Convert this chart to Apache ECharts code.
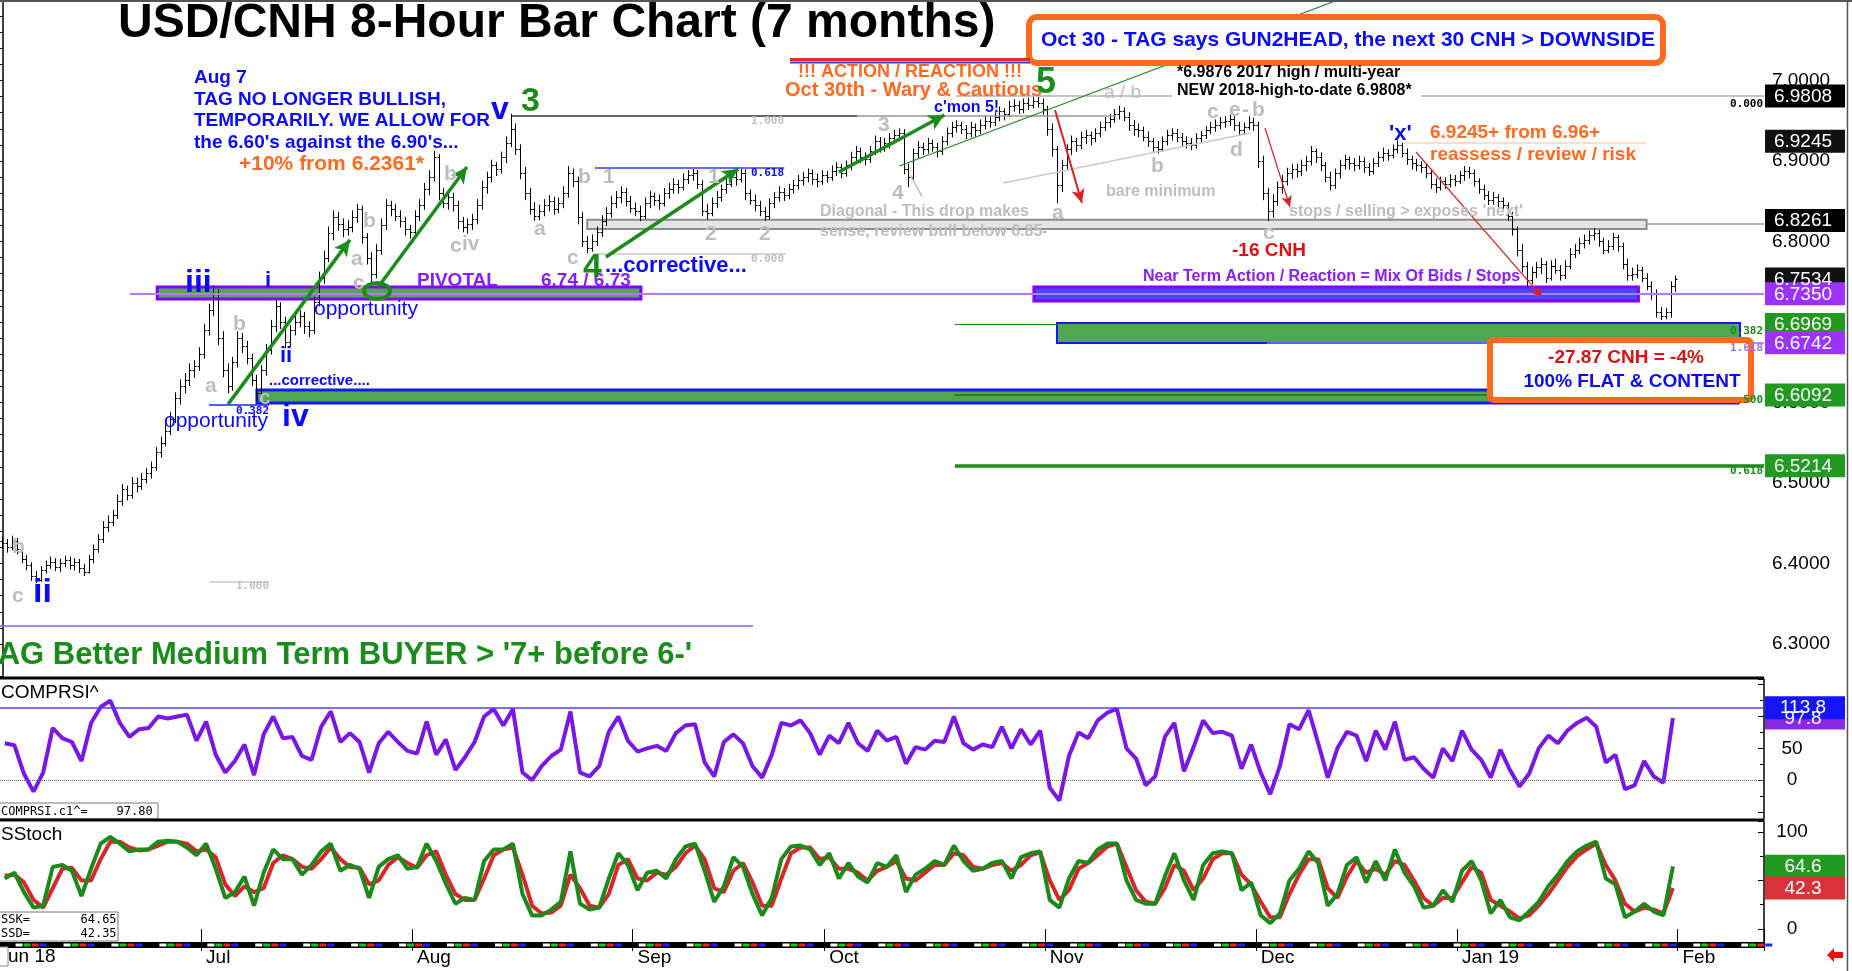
<!DOCTYPE html>
<html>
<head>
<meta charset="utf-8">
<title>USD/CNH 8-Hour Bar Chart (7 months)</title>
<script src="https://cdn.jsdelivr.net/npm/echarts/dist/echarts.min.js"></script>
<style>
html, body { margin: 0; padding: 0; background: #fff; }
#chart { width: 1852px; height: 971px; }
</style>
</head>
<body>
<div id="chart"></div>
<script>
var FONT = "'Liberation Sans', Arial, sans-serif";
var MONO = "'DejaVu Sans Mono', monospace";

// two bars per trading day: [high, low, close]; each bar opens at the previous close
var firstOpen = 6.428;
var jun = [
  [6.433,6.419,6.425],[6.430,6.414,6.420],[6.434,6.417,6.428],[6.431,6.412,6.418],
  [6.420,6.401,6.405],[6.410,6.392,6.398],[6.401,6.379,6.385],[6.390,6.376,6.380],
  [6.396,6.378,6.392],[6.403,6.388,6.398],[6.408,6.394,6.402],[6.406,6.391,6.396],
  [6.405,6.390,6.400],[6.409,6.396,6.404],[6.408,6.393,6.398],[6.406,6.392,6.402],
  [6.405,6.389,6.395],[6.399,6.385,6.390],[6.410,6.388,6.405],[6.423,6.401,6.418],
  [6.436,6.414,6.430],[6.452,6.426,6.445],[6.459,6.440,6.452],[6.466,6.447,6.460],
  [6.485,6.456,6.478],[6.498,6.472,6.492],[6.496,6.479,6.485],[6.507,6.481,6.500],
  [6.506,6.489,6.496],[6.512,6.492,6.505],[6.518,6.500,6.512],[6.526,6.506,6.520],
  [6.544,6.516,6.538],[6.557,6.532,6.550],[6.572,6.546,6.565],[6.588,6.560,6.580],
  [6.612,6.575,6.605],[6.628,6.598,6.620],[6.636,6.612,6.628],[6.648,6.621,6.640],
  [6.652,6.631,6.645],[6.668,6.640,6.660]
];
var jul = [
  [6.697,6.655,6.690],[6.722,6.684,6.715],[6.745,6.708,6.735],[6.740,6.672,6.680],
  [6.688,6.632,6.640],[6.648,6.612,6.620],[6.656,6.615,6.650],[6.688,6.644,6.680],
  [6.686,6.662,6.670],[6.676,6.648,6.655],[6.660,6.621,6.628],[6.634,6.603,6.612],
  [6.646,6.607,6.640],[6.672,6.634,6.665],[6.702,6.660,6.695],[6.728,6.688,6.720],
  [6.724,6.692,6.700],[6.706,6.668,6.675],[6.696,6.670,6.690],[6.708,6.684,6.700],
  [6.714,6.694,6.708],[6.712,6.686,6.695],[6.700,6.682,6.690],[6.731,6.686,6.725],
  [6.762,6.720,6.755],[6.788,6.748,6.780],[6.818,6.775,6.810],[6.838,6.802,6.830],
  [6.836,6.814,6.822],[6.828,6.806,6.815],[6.826,6.808,6.818],[6.838,6.812,6.830],
  [6.846,6.824,6.840],[6.844,6.798,6.805],[6.810,6.772,6.780],[6.786,6.750,6.760],
  [6.796,6.755,6.790],[6.828,6.784,6.820],[6.852,6.815,6.845],[6.850,6.832,6.840],
  [6.846,6.826,6.832],[6.838,6.818,6.825],[6.830,6.808,6.815],[6.820,6.804,6.812]
];
var aug = [
  [6.838,6.808,6.832],[6.852,6.826,6.845],[6.872,6.840,6.865],[6.888,6.858,6.880],
  [6.912,6.875,6.905],[6.908,6.852,6.860],[6.866,6.842,6.848],[6.862,6.840,6.855],
  [6.860,6.838,6.845],[6.850,6.816,6.825],[6.830,6.812,6.818],[6.828,6.810,6.822],
  [6.834,6.815,6.828],[6.852,6.822,6.845],[6.875,6.840,6.868],[6.886,6.860,6.880],
  [6.901,6.874,6.895],[6.898,6.882,6.890],[6.911,6.885,6.905],[6.930,6.898,6.922],
  [6.958,6.918,6.940],[6.946,6.908,6.915],[6.920,6.878,6.885],[6.892,6.852,6.860],
  [6.866,6.834,6.840],[6.848,6.826,6.832],[6.845,6.827,6.838],[6.852,6.832,6.845],
  [6.857,6.838,6.850],[6.855,6.834,6.840],[6.854,6.836,6.848],[6.868,6.842,6.860],
  [6.893,6.855,6.885],[6.890,6.868,6.875],[6.880,6.822,6.830],[6.836,6.794,6.800],
  [6.806,6.786,6.792],[6.808,6.788,6.800],[6.818,6.795,6.812],[6.832,6.806,6.825],
  [6.842,6.820,6.835],[6.856,6.830,6.848],[6.862,6.842,6.855],[6.868,6.848,6.862],
  [6.866,6.844,6.850],[6.856,6.836,6.842]
];
var sep = [
  [6.848,6.832,6.838],[6.844,6.826,6.832],[6.854,6.828,6.848],[6.862,6.842,6.856],
  [6.860,6.845,6.852],[6.858,6.840,6.848],[6.866,6.844,6.860],[6.872,6.854,6.865],
  [6.878,6.860,6.872],[6.876,6.860,6.868],[6.884,6.864,6.878],[6.888,6.872,6.882],
  [6.890,6.876,6.885],[6.888,6.866,6.872],[6.876,6.832,6.838],[6.846,6.828,6.835],
  [6.854,6.832,6.848],[6.862,6.842,6.855],[6.870,6.850,6.865],[6.878,6.860,6.872],
  [6.886,6.868,6.880],[6.888,6.870,6.878],[6.892,6.874,6.885],[6.889,6.852,6.860],
  [6.864,6.846,6.852],[6.858,6.838,6.845],[6.850,6.832,6.838],[6.842,6.826,6.832],
  [6.853,6.828,6.848],[6.861,6.842,6.855],[6.868,6.850,6.862],[6.866,6.851,6.858],
  [6.871,6.853,6.865],[6.876,6.860,6.870],[6.882,6.865,6.876],[6.886,6.870,6.880],
  [6.890,6.874,6.885],[6.889,6.871,6.878],[6.884,6.868,6.875],[6.888,6.871,6.882]
];
var oct = [
  [6.887,6.874,6.880],[6.894,6.876,6.888],[6.898,6.882,6.892],[6.896,6.879,6.885],
  [6.900,6.881,6.895],[6.911,6.889,6.905],[6.918,6.900,6.912],[6.916,6.898,6.905],
  [6.910,6.895,6.902],[6.918,6.898,6.912],[6.931,6.908,6.925],[6.929,6.911,6.918],
  [6.928,6.912,6.922],[6.934,6.916,6.928],[6.938,6.922,6.932],[6.940,6.926,6.935],
  [6.939,6.884,6.890],[6.896,6.868,6.880],[6.915,6.876,6.910],[6.924,6.904,6.918],
  [6.922,6.908,6.915],[6.928,6.910,6.922],[6.926,6.912,6.918],[6.922,6.905,6.912],
  [6.930,6.908,6.925],[6.941,6.920,6.935],[6.948,6.930,6.942],[6.950,6.936,6.945],
  [6.948,6.934,6.940],[6.944,6.928,6.935],[6.948,6.930,6.942],[6.946,6.931,6.938],
  [6.951,6.934,6.945],[6.956,6.940,6.950],[6.955,6.942,6.948],[6.960,6.944,6.955],
  [6.967,6.950,6.962],[6.965,6.951,6.958],[6.974,6.955,6.968],[6.976,6.962,6.970],
  [6.974,6.959,6.965],[6.977,6.960,6.972],[6.978,6.964,6.970],[6.979,6.966,6.975],
  [6.981,6.967,6.972],[6.977,6.958,6.965]
];
var nov = [
  [6.968,6.932,6.940],[6.946,6.906,6.915],[6.918,6.848,6.870],[6.901,6.862,6.895],
  [6.920,6.890,6.915],[6.931,6.908,6.925],[6.928,6.912,6.920],[6.936,6.915,6.930],
  [6.938,6.922,6.932],[6.936,6.920,6.928],[6.940,6.924,6.935],[6.948,6.930,6.942],
  [6.954,6.938,6.948],[6.958,6.942,6.952],[6.964,6.948,6.958],[6.968,6.952,6.962],
  [6.966,6.950,6.955],[6.960,6.938,6.945],[6.950,6.932,6.940],[6.946,6.930,6.938],
  [6.942,6.925,6.930],[6.936,6.918,6.925],[6.928,6.912,6.918],[6.924,6.910,6.915],
  [6.930,6.912,6.925],[6.938,6.920,6.932],[6.940,6.926,6.935],[6.939,6.924,6.930],
  [6.934,6.919,6.925],[6.930,6.916,6.922],[6.928,6.914,6.920],[6.934,6.916,6.928],
  [6.937,6.923,6.932],[6.943,6.928,6.938],[6.948,6.934,6.942],[6.951,6.937,6.945],
  [6.954,6.940,6.948],[6.955,6.942,6.950],[6.957,6.944,6.952],[6.955,6.938,6.945],
  [6.948,6.932,6.938],[6.947,6.933,6.942],[6.955,6.939,6.948],[6.953,6.938,6.945]
];
var dec = [
  [6.948,6.892,6.900],[6.906,6.852,6.860],[6.866,6.826,6.838],[6.858,6.830,6.850],
  [6.874,6.845,6.868],[6.882,6.860,6.875],[6.891,6.870,6.885],[6.896,6.878,6.890],
  [6.896,6.880,6.888],[6.901,6.882,6.895],[6.906,6.888,6.900],[6.918,6.895,6.912],
  [6.915,6.898,6.905],[6.910,6.888,6.895],[6.898,6.874,6.880],[6.886,6.864,6.870],
  [6.890,6.866,6.885],[6.901,6.879,6.895],[6.907,6.890,6.902],[6.905,6.890,6.898],
  [6.903,6.888,6.895],[6.906,6.890,6.900],[6.904,6.886,6.892],[6.897,6.882,6.888],
  [6.903,6.884,6.898],[6.911,6.893,6.905],[6.916,6.900,6.910],[6.914,6.901,6.908],
  [6.920,6.904,6.915],[6.925,6.910,6.920],[6.922,6.905,6.910],[6.915,6.896,6.902],
  [6.906,6.890,6.898],[6.902,6.888,6.895],[6.899,6.886,6.892],[6.896,6.879,6.885],
  [6.888,6.866,6.872],[6.878,6.861,6.868],[6.880,6.864,6.875],[6.879,6.866,6.872],
  [6.883,6.868,6.878],[6.882,6.869,6.875]
];
var jan = [
  [6.887,6.872,6.882],[6.893,6.876,6.888],[6.892,6.879,6.885],[6.889,6.869,6.875],
  [6.878,6.860,6.865],[6.870,6.852,6.858],[6.862,6.846,6.852],[6.861,6.846,6.855],
  [6.858,6.843,6.850],[6.854,6.838,6.845],[6.848,6.826,6.832],[6.836,6.808,6.815],
  [6.818,6.782,6.790],[6.796,6.762,6.770],[6.774,6.745,6.752],[6.768,6.748,6.762],
  [6.774,6.755,6.768],[6.779,6.760,6.772],[6.775,6.749,6.755],[6.776,6.752,6.770],
  [6.778,6.760,6.765],[6.770,6.752,6.758],[6.776,6.754,6.770],[6.791,6.766,6.785],
  [6.796,6.780,6.790],[6.804,6.785,6.798],[6.808,6.792,6.802],[6.813,6.797,6.808],
  [6.816,6.802,6.810],[6.814,6.794,6.800],[6.804,6.785,6.790],[6.801,6.786,6.795],
  [6.810,6.790,6.805],[6.808,6.788,6.795],[6.798,6.766,6.772],[6.778,6.752,6.758],
  [6.767,6.752,6.760],[6.771,6.755,6.765],[6.768,6.750,6.755],[6.760,6.740,6.745],
  [6.750,6.728,6.735],[6.740,6.706,6.712],[6.718,6.703,6.708],[6.717,6.704,6.712],
  [6.750,6.706,6.745],[6.757,6.738,6.753]
];

// daily indicator readings
var comprsi = [
  58,55,10,-18,12,82,66,60,30,90, 115,125,90,68,80,82,100,97,100,103,
  62,92,40,12,30,56,8,72,100,66, 68,38,32,84,108,60,74,60,12,58,
  76,60,46,42,92,40,64,16,36,60, 100,112,86,112,12,0,22,38,48,108,
  12,6,22,76,100,62,45,50,54,46, 74,86,88,28,6,60,72,58,22,4,
  40,90,86,94,74,40,70,58,90,58, 46,78,62,68,26,52,48,62,60,100,
  58,48,56,52,84,50,80,56,78,-12, -32,38,75,66,94,106,112,50,34,-8,
  6,68,90,14,52,94,74,76,70,18, 56,12,-22,22,88,80,110,58,4,50,
  76,70,30,78,48,92,32,36,18,4, 50,30,78,48,32,4,48,16,-10,10,
  50,70,58,78,90,98,84,28,40,-14, -8,30,6,-4,97.8
];
var ssk = [
  52,58,38,22,24,64,66,60,34,62, 88,95,88,80,82,82,90,91,90,84,
  76,88,62,32,38,54,24,58,82,72, 72,56,66,80,88,60,66,62,32,64,
  72,76,62,64,88,70,47,26,32,30, 70,82,82,88,36,14,14,20,28,80,
  26,20,22,52,78,66,40,58,60,52, 72,85,88,60,28,44,74,64,36,14,
  32,72,85,86,82,66,78,52,68,54, 48,68,64,76,38,56,62,70,66,86,
  70,60,62,68,70,52,74,78,80,30, 22,52,70,68,82,88,88,50,30,26,
  26,54,78,50,30,66,78,80,78,40, 48,14,6,16,50,62,80,68,24,36,
  66,74,48,70,50,82,58,44,22,24, 40,28,60,70,50,16,30,12,9,18,
  28,44,56,70,80,86,90,52,46,12, 18,26,18,14,64.6
];
var ssd = [
  55,56,48,30,22,42,62,63,50,50, 72,90,90,84,81,82,86,90,90,88,
  80,82,74,46,34,44,38,42,68,76, 72,64,62,72,84,72,64,63,46,50,
  66,74,68,63,76,80,56,36,30,30, 52,76,82,84,56,24,16,17,24,56,
  42,24,22,36,66,72,52,50,58,56, 64,78,86,72,42,38,60,68,48,24,
  24,52,78,84,84,72,74,62,62,58, 50,60,64,70,52,50,58,66,66,78,
  76,64,62,66,68,60,66,76,79,50, 30,40,62,68,76,85,88,64,40,28,
  26,42,66,60,40,52,72,78,78,56, 46,28,12,12,36,56,72,72,42,32,
  54,70,58,62,56,70,66,50,32,24, 32,32,48,64,58,30,24,18,11,14,
  24,36,50,64,75,82,88,66,50,26, 18,22,20,16,42.3
];

// right-hand value tags
var priceTags = [[6.9808,'#000'],[6.9245,'#111'],[6.8261,'#000'],[6.7534,'#111'],[6.7350,'#9b33ff'],
                 [6.6969,'#229a22'],[6.6742,'#9b33ff'],[6.6092,'#229a22'],[6.5214,'#229a22']];
var rsiTags = [[97.8,'#8a2be2'],[113.8,'#1414ff']];
var stochTags = [[64.6,'#229a22'],[42.3,'#d8323a']];
var monthNames = ['Jan 19','Feb','Mar','Apr','May','Jun','Jul','Aug','Sep','Oct','Nov','Dec'];

// trading days from 1 Jun 2018, plus empty space on the right
var totalDays = 184;
var days = [];
var dt = new Date(Date.UTC(2018, 5, 1));
while (days.length < totalDays) {
  var wd = dt.getUTCDay();
  if (wd !== 0 && wd !== 6) days.push(dt.toISOString().slice(0, 10));
  dt.setUTCDate(dt.getUTCDate() + 1);
}
function monthStart(i) { return i > 0 && days[i].slice(5, 7) !== days[i - 1].slice(5, 7); }

var bars = jun.concat(jul, aug, sep, oct, nov, dec, jan);
var ohlc = [];
var prev = firstOpen;
bars.forEach(function (b, i) { ohlc.push([i, prev, b[0], b[1], b[2]]); prev = b[2]; });
var barSlots = totalDays * 2;

function renderBar(params, api) {
  var x = api.value(0);
  var o = api.coord([x, api.value(1)]);
  var h = api.coord([x, api.value(2)]);
  var l = api.coord([x, api.value(3)]);
  var c = api.coord([x, api.value(4)]);
  var w = api.size([1, 0])[0];
  var cx = Math.round(o[0]) + 0.5;
  var t = Math.max(1.5, w * 0.42);
  var st = { stroke: '#000', lineWidth: 1 };
  return { type: 'group', children: [
    { type: 'line', shape: { x1: cx, y1: h[1] - 0.5, x2: cx, y2: l[1] + 0.5 }, style: st },
    { type: 'line', shape: { x1: cx - t, y1: Math.round(o[1]) + 0.5, x2: cx, y2: Math.round(o[1]) + 0.5 }, style: st },
    { type: 'line', shape: { x1: cx, y1: Math.round(c[1]) + 0.5, x2: cx + t, y2: Math.round(c[1]) + 0.5 }, style: st }
  ]};
}

function seg(a, b, color, width, arrow) {
  return [
    { coord: a, symbol: 'none', lineStyle: { color: color, width: width, type: 'solid' } },
    { coord: b, symbol: arrow ? 'arrow' : 'none', symbolSize: arrow || 0 }
  ];
}
function band(a, b, fill, border, bw) {
  return [{ coord: a, itemStyle: { color: fill, borderColor: border, borderWidth: bw } }, { coord: b }];
}

var GREEN = '#1a8c1a', RED = '#e02020';

var option = {
  animation: false,
  backgroundColor: '#fff',
  grid: [
    { left: 0, top: 0, width: 1764, height: 677 },
    { left: 0, top: 679, width: 1764, height: 140 },
    { left: 0, top: 821, width: 1764, height: 124 }
  ],
  xAxis: [
    { type: 'value', gridIndex: 0, min: -0.5, max: barSlots - 0.5, show: false },
    { type: 'category', gridIndex: 1, data: days, boundaryGap: true, show: false },
    { type: 'category', gridIndex: 2, data: days, boundaryGap: true,
      axisLine: { show: false },
      axisTick: { show: true, interval: function (i) { return monthStart(i); }, length: 22, lineStyle: { color: '#000', width: 1 } },
      axisLabel: { interval: function (i) { return monthStart(i); }, align: 'left', margin: 3,
        color: '#000', fontSize: 19, fontFamily: FONT,
        formatter: function (v) { return monthNames[+v.slice(5, 7) - 1]; } },
      splitLine: { show: false } }
  ],
  yAxis: [
    { type: 'value', gridIndex: 0, position: 'right', min: 6.259, max: 7.1, splitNumber: 8,
      axisLine: { show: true, lineStyle: { color: '#000', width: 1.5 } },
      axisTick: { show: true, inside: true, length: 7, lineStyle: { color: '#000' } },
      minorTick: { show: true, splitNumber: 5, length: 4, lineStyle: { color: '#000' } },
      axisLabel: { showMinLabel: false, showMaxLabel: false, align: 'center', margin: 37,
        color: '#000', fontSize: 19, fontFamily: FONT, formatter: function (v) { return v.toFixed(4); } },
      splitLine: { show: false } },
    { type: 'value', gridIndex: 1, position: 'right', min: -61, max: 159, splitNumber: 4,
      axisLine: { show: true, lineStyle: { color: '#000', width: 1.5 } },
      axisTick: { show: true, inside: true, length: 6, lineStyle: { color: '#000' } },
      minorTick: { show: true, splitNumber: 2, length: 4, lineStyle: { color: '#000' } },
      axisLabel: { showMinLabel: false, showMaxLabel: false, align: 'center', margin: 28,
        color: '#000', fontSize: 19, fontFamily: FONT,
        formatter: function (v) { return (v === 0 || v === 50 || v === 100) ? String(v) : ''; } },
      splitLine: { show: false } },
    { type: 'value', gridIndex: 2, position: 'right', min: -16.5, max: 111.3, splitNumber: 2,
      axisLine: { show: true, lineStyle: { color: '#000', width: 1.5 } },
      axisTick: { show: true, inside: true, length: 6, lineStyle: { color: '#000' } },
      minorTick: { show: true, splitNumber: 2, length: 4, lineStyle: { color: '#000' } },
      axisLabel: { showMinLabel: false, showMaxLabel: false, align: 'center', margin: 28,
        color: '#000', fontSize: 19, fontFamily: FONT,
        formatter: function (v) { return (v === 0 || v === 100) ? String(v) : ''; } },
      splitLine: { show: false } }
  ],
  series: [
    { type: 'custom', name: 'USD/CNH', xAxisIndex: 0, yAxisIndex: 0, data: ohlc,
      encode: { x: 0, y: [1, 2, 3, 4] }, renderItem: renderBar, silent: true, z: 3,
      markArea: { silent: true, z: 2, data: [
        band([122, 6.827], [343, 6.8155], '#e4e4e4', '#8c8c8c', 2),
        band([32.3, 6.7435], [133.2, 6.7286], '#58a458', '#8400ff', 3),
        band([215.2, 6.7435], [341.3, 6.7261], '#4848ff', '#8400ff', 3),
        band([220, 6.6988], [362.5, 6.6739], '#4fa84f', '#1515ff', 2),
        band([53.1, 6.6155], [362.1, 6.5994], '#4fa84f', '#1515ff', 3)
      ]},
      markLine: { silent: true, symbol: 'none', label: { show: false }, z: 4, data: [
        seg([106.3, 6.9559], [178.3, 6.9559], '#333', 1.5),
        seg([178.3, 6.9559], [232.3, 6.9559], '#999', 1.5),
        seg([123.6, 6.8913], [163.1, 6.8913], '#6a6aff', 2),
        seg([123.6, 6.7845], [163.5, 6.7845], '#c8c8c8', 1.5),
        seg([199, 6.9808], [244, 6.9808], '#c4c4c4', 2),
        seg([296, 6.9808], [barSlots - 0.5, 6.9808], '#c4c4c4', 2),
        seg([292.4, 6.9224], [342.9, 6.9224], '#ffd2b4', 1.5),
        seg([342.9, 6.8215], [barSlots - 0.5, 6.8215], '#999', 1.5),
        seg([26.6, 6.735], [barSlots - 0.5, 6.735], '#b27aff', 2),
        seg([198.7, 6.6969], [220, 6.6969], GREEN, 1),
        seg([263.8, 6.6742], [barSlots - 0.5, 6.6742], '#9a6aff', 1.5),
        seg([198.7, 6.6092], [362.1, 6.6092], '#1a7a1a', 1.5),
        seg([198.7, 6.5214], [barSlots - 0.5, 6.5214], GREEN, 3.5),
        seg([43.1, 6.597], [55.6, 6.597], '#2020ff', 1.5),
        seg([43.1, 6.377], [55.6, 6.377], '#c8c8c8', 1.5),
        seg([-0.5, 6.3224], [156.6, 6.3224], '#6a6aff', 1.5),
        seg([208.8, 6.8727], [260.3, 6.9348], '#c8c8c8', 1.5),
        seg([189.4, 6.8826], [191.9, 6.8553], '#c0c0c0', 1.5),
        seg([187.1, 6.8938], [278.6, 7.1], GREEN, 1.2),
        seg([47.1, 6.598], [72.5, 6.802], GREEN, 3.5, [12, 16]),
        seg([78.4, 6.7435], [96.9, 6.8925], GREEN, 3.5, [12, 16]),
        seg([125.9, 6.7807], [153.5, 6.8901], GREEN, 3.5, [12, 16]),
        seg([174.5, 6.8863], [196.5, 6.9571], GREEN, 3.5, [12, 16]),
        seg([219.6, 6.9634], [225.2, 6.8478], RED, 2, [10, 14]),
        seg([263.4, 6.941], [268.6, 6.8429], RED, 1.2, [8, 11]),
        seg([294.9, 6.9112], [321.2, 6.7311], RED, 1.2, [8, 11])
      ]}
    },
    { type: 'line', name: 'COMPRSI', xAxisIndex: 1, yAxisIndex: 1, data: comprsi, symbol: 'none',
      lineStyle: { color: '#7b16e8', width: 4 }, silent: true, z: 3,
      markLine: { silent: true, symbol: 'none', label: { show: false }, data: [
        { yAxis: 113.8, lineStyle: { color: '#4646ff', width: 1.5, type: 'solid' } },
        { yAxis: 0, lineStyle: { color: '#666', width: 1, type: 'dotted' } }
      ]}
    },
    { type: 'line', name: 'SSD', xAxisIndex: 2, yAxisIndex: 2, data: ssd, symbol: 'none',
      lineStyle: { color: '#d8262a', width: 4 }, silent: true, z: 3 },
    { type: 'line', name: 'SSK', xAxisIndex: 2, yAxisIndex: 2, data: ssk, symbol: 'none',
      lineStyle: { color: '#1a8a1a', width: 4 }, silent: true, z: 4 }
  ]
};

var chart = echarts.init(document.getElementById('chart'));
chart.setOption(option);

// ---- annotations ----
var G = [];
function txt(x, y, s, size, color, weight, extra) {
  var st = { text: s, fill: color, fontSize: size, fontWeight: weight || 'bold', fontFamily: FONT,
             verticalAlign: 'middle', align: 'left' };
  if (extra) for (var k in extra) st[k] = extra[k];
  G.push({ type: 'text', x: x, y: y, z: 50, silent: true, style: st });
}
function line(x1, y1, x2, y2, color, w) {
  G.push({ type: 'line', z: 49, silent: true, shape: { x1: x1, y1: y1, x2: x2, y2: y2 }, style: { stroke: color, lineWidth: w } });
}
function box(x, y, w, h, stroke, lw, r) {
  G.push({ type: 'rect', z: 48, silent: true, shape: { x: x, y: y, width: w, height: h, r: r || 0 },
           style: { fill: '#fff', stroke: stroke, lineWidth: lw } });
}
var BLUE = '#0a0aff', ORANGE = '#ff6a1f', PURPLE = '#8a1aff', GRAY = '#bdbdbd';

line(0, 1, 1852, 1, '#555', 2);
line(1847.5, 0, 1847.5, 971, '#555', 1.5);
line(0, 678, 1764, 678, '#000', 3);
line(0, 820, 1764, 820, '#000', 3);

txt(118, 24, 'USD/CNH 8-Hour Bar Chart (7 months)', 48, '#000');
box(1029, 17, 634, 46, ORANGE, 6, 8);
txt(1041, 40, 'Oct 30 - TAG says GUN2HEAD, the next 30 CNH > DOWNSIDE', 21, BLUE);
line(790, 59.5, 1030, 59.5, '#e82a1a', 3);
line(790, 62.5, 1030, 62.5, '#3a3acc', 2);
txt(798, 72, '!!! ACTION / REACTION !!!', 18, ORANGE);
txt(785, 90, 'Oct 30th - Wary & Cautious', 20, ORANGE);
txt(1036, 83, '5', 36, GREEN);
txt(1177, 73, '*6.9876 2017 high / multi-year', 16, '#000');
txt(1177, 91, 'NEW 2018-high-to-date 6.9808*', 16, '#000');
txt(1104, 93, 'a / b', 19, GRAY, 'normal');
txt(934, 108, "c'mon 5!", 16, BLUE);

// grey wave counts
[[878,125,'3'],[892,193,'4'],[708,177,'1'],[705,234,'2'],[759,234,'2'],[1052,213,'a'],
 [1151,166,'b'],[1207,112,'c'],[1229,110,'e'],[1242,110,'-'],[1252,110,'b'],[1230,150,'d'],[1263,233,'c'],
 [12,547,'b'],[12,596,'c'],[233,324,'b'],[205,386,'a'],[259,398,'c'],[363,221,'b'],[351,259,'a'],
 [353,283,'c'],[444,174,'b'],[450,246,'c'],[462,244,'iv'],[534,229,'a'],[578,177,'b'],[603,177,'1'],[567,258,'c']
].forEach(function (w) { txt(w[0], w[1], w[2], 21, GRAY, 'bold'); });

txt(820, 212, 'Diagonal - This drop makes', 16, GRAY);
txt(820, 232, 'sense, review bull below 6.85-', 16, GRAY);
txt(1106, 192, 'bare minimum', 16, GRAY);
txt(1289, 212, "stops / selling > exposes 'next'", 16, GRAY);
txt(1232, 251, '-16 CNH', 19, '#e01010');
txt(1389, 134, "'x'", 22, BLUE);
txt(1430, 133, '6.9245+ from 6.96+', 19, ORANGE);
txt(1430, 155, 'reassess / review / risk', 19, ORANGE);
txt(1143, 277, 'Near Term Action / Reaction = Mix Of Bids / Stops', 16, PURPLE);

box(1490, 340, 261, 60, ORANGE, 6, 4);
txt(1626, 358, '-27.87 CNH = -4%', 19, '#e01010', 'bold', { align: 'center' });
txt(1632, 382, '100% FLAT & CONTENT', 19, BLUE, 'bold', { align: 'center' });

txt(194, 78, 'Aug 7', 19, BLUE);
txt(194, 100, 'TAG NO LONGER BULLISH,', 19, BLUE);
txt(194, 121, 'TEMPORARILY. WE ALLOW FOR', 19, BLUE);
txt(194, 143, "the 6.60's against the 6.90's...", 19, BLUE);
txt(239, 164, '+10% from 6.2361*', 21, ORANGE);
txt(491, 110, 'v', 32, BLUE);
txt(521, 102, '3', 34, GREEN);
txt(185, 283, 'iii', 32, BLUE);
txt(265, 281, 'i', 22, BLUE);
txt(417, 281, 'PIVOTAL', 19, PURPLE);
txt(541, 281, '6.74 / 6.73', 19, PURPLE);
txt(314, 309, 'opportunity', 21, BLUE, 'normal');
txt(164, 421, 'opportunity', 21, BLUE, 'normal');
txt(280, 356, 'ii', 22, BLUE);
txt(269, 381, '...corrective....', 15, BLUE);
txt(282, 417, 'iv', 32, BLUE);
txt(33, 593, 'ii', 34, BLUE);
txt(583, 268, '4', 34, GREEN);
txt(605, 266, '...corrective...', 22, BLUE);
G.push({ type: 'ellipse', z: 50, silent: true, shape: { cx: 377, cy: 291, rx: 13, ry: 8 },
         style: { fill: 'none', stroke: GREEN, lineWidth: 4 } });

// fibonacci ratio tags
[[784,121,'1.000','#c0c0c0'],[784,173,'0.618',BLUE],[784,259,'0.000','#c0c0c0'],
 [269,411,'0.382',BLUE],[269,586,'1.000','#c0c0c0'],
 [1763,104,'0.000','#000'],[1763,331,'0.382',GREEN],[1763,348,'1.618','#9a6aff'],
 [1763,400,'.500',GREEN],[1763,471,'0.618',GREEN]
].forEach(function (f) { txt(f[0], f[1], f[2], 11, f[3], 'bold', { align: 'right', fontFamily: MONO }); });

txt(-19, 655, "TAG Better Medium Term BUYER > '7+ before 6-'", 31, GREEN);

// indicator captions
txt(1, 693, 'COMPRSI^', 19, '#000', 'normal');
box(-1, 803, 159, 16, '#777', 1);
txt(1, 811.5, 'COMPRSI.c1^=    97.80', 12, '#000', 'normal', { fontFamily: MONO });
txt(1, 835, 'SStoch', 19, '#000', 'normal');
box(-1, 912, 119, 29, '#777', 1);
txt(1, 920, 'SSK=       64.65', 12, '#000', 'normal', { fontFamily: MONO });
txt(1, 934, 'SSD=       42.35', 12, '#000', 'normal', { fontFamily: MONO });

// date strip under the panels
G.push({ type: 'rect', z: 45, silent: true, shape: { x: 0, y: 942, width: 1764, height: 6 }, style: { fill: '#000' } });
var dayW = 1764 / totalDays;
days.forEach(function (d, i) {
  if (new Date(d + 'T00:00:00Z').getUTCDay() !== 1) return;
  var x0 = i * dayW + 6;
  ['#fff', '#1c1', '#e22', '#22e'].forEach(function (c, k) {
    G.push({ type: 'rect', z: 46, silent: true, shape: { x: x0 + k * 8, y: 943.5, width: 7, height: 3 }, style: { fill: c } });
  });
});
txt(-1.5, 957, 'Jun 18', 19, '#000', 'normal');
G.push({ type: 'rect', z: 51, silent: true, shape: { x: -2, y: 947, width: 10, height: 19 }, style: { fill: '#fff', stroke: '#888', lineWidth: 1 } });
G.push({ type: 'polygon', z: 51, silent: true,
         shape: { points: [[1827,955],[1834,948],[1834,952],[1843,952],[1843,958],[1834,958],[1834,962]] },
         style: { fill: '#e81010' } });

// value tags on the right axis
function tag(list, axis, digits) {
  list.forEach(function (t) {
    var y = chart.convertToPixel({ yAxisIndex: axis }, t[0]);
    G.push({ type: 'rect', z: 60, silent: true, shape: { x: 1765, y: y - 11.5, width: 80, height: 23 }, style: { fill: t[1] } });
    G.push({ type: 'text', z: 61, silent: true, x: 1803, y: y + 0.5,
             style: { text: t[0].toFixed(digits), fill: '#fff', fontSize: 19, fontFamily: FONT, align: 'center', verticalAlign: 'middle' } });
  });
}
tag(priceTags, 0, 4);
tag(rsiTags, 1, 1);
tag(stochTags, 2, 1);

chart.setOption({ graphic: G });
</script>
</body>
</html>
